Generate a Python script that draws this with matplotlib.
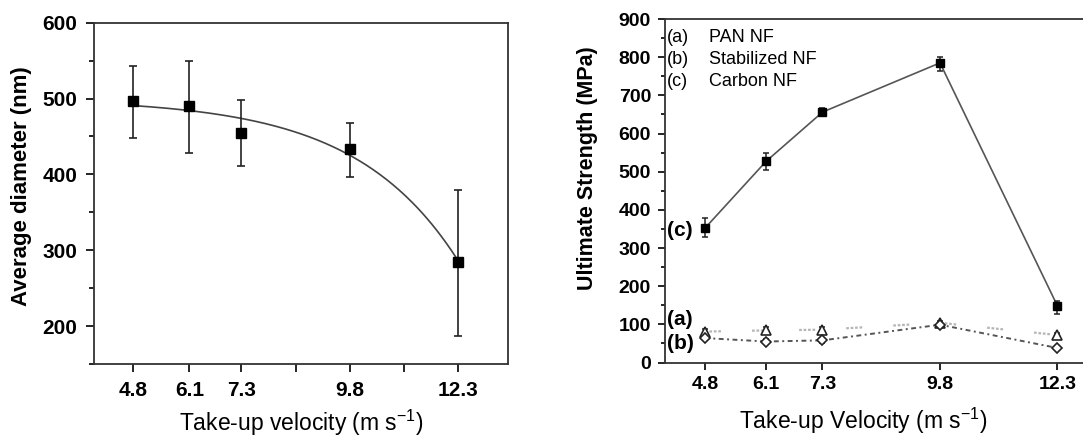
import numpy as np
import matplotlib
matplotlib.use("Agg")
import matplotlib.pyplot as plt
from matplotlib.ticker import FixedLocator, MultipleLocator
import matplotlib.transforms as mtransforms

plt.rcParams['font.family'] = ['Liberation Sans', 'DejaVu Sans']
plt.rcParams['mathtext.default'] = 'regular'

# ---- data: average fibre diameter vs take-up velocity ----
velocity = [4.8, 6.1, 7.3, 9.8, 12.3]
velocity_labels = ['4.8', '6.1', '7.3', '9.8', '12.3']
diameter = [497, 490, 455, 433, 285]
diameter_err_hi = [543, 550, 498, 468, 380]
diameter_err_lo = [448, 428, 411, 396, 187]

# ---- data: ultimate strength of the three fibre types ----
carbon_nf = [352, 527, 656, 785, 148]
carbon_hi = [378, 548, 666, 801, 161]
carbon_lo = [328, 505, 645, 764, 127]
pan_nf = [81, 84, 86, 104, 72]
pan_err = [8, 8, 8, 6, 5]
stab_nf = [64, 55, 58, 99, 38]
stab_err = [6, 6, 6, 6, 4]

W, H = 1083, 437
fig = plt.figure(figsize=(W / 100, H / 100), dpi=100)


def frac_box(left, top, right, bottom):
    return [left / W, 1 - bottom / H, (right - left) / W, (bottom - top) / H]


def saturating_fit(x, y):
    """Least-squares fit of y = a - b*exp(k*x), scanning k."""
    x = np.asarray(x, float)
    y = np.asarray(y, float)
    best = None
    for k in np.linspace(0.05, 1.2, 500):
        A = np.column_stack([np.ones_like(x), -np.exp(k * x)])
        sol, *_ = np.linalg.lstsq(A, y, rcond=None)
        res = np.sum((A @ sol - y) ** 2)
        if best is None or res < best[0]:
            best = (res, sol[0], sol[1], k)
    _, a, b, k = best
    return lambda t: a - b * np.exp(k * np.asarray(t))


# ================= left panel =================
ax1 = fig.add_axes(frac_box(94, 22.7, 508, 364))
yerr1 = [np.subtract(diameter, diameter_err_lo), np.subtract(diameter_err_hi, diameter)]
ax1.errorbar(velocity, diameter, yerr=yerr1, fmt='s', color='black', ms=7,
             ecolor='#222222', elinewidth=1.2, capsize=3, capthick=1.2, zorder=3)

# smooth trend through the measured diameters
trend = saturating_fit(velocity, diameter)
xs = np.linspace(velocity[0], velocity[-1], 200)
ax1.plot(xs, trend(xs), color='#444444', lw=1.2, zorder=2)

ax1.set_xlim(3.9, 13.45)
ax1.set_ylim(150, 600)
ax1.xaxis.set_major_locator(FixedLocator(velocity))
ax1.set_xticklabels(velocity_labels)
ax1.xaxis.set_minor_locator(FixedLocator([8.55, 11.05]))
ax1.yaxis.set_major_locator(MultipleLocator(100))
ax1.yaxis.set_minor_locator(MultipleLocator(50))
ax1.set_yticks([200, 300, 400, 500, 600])
ax1.tick_params(which='major', direction='out', length=6, width=1.2, labelsize=15, pad=6)
ax1.tick_params(which='minor', direction='out', length=3.5, width=1.2)
ax1.tick_params(axis='x', which='minor', length=6)
for lab in ax1.get_xticklabels() + ax1.get_yticklabels():
    lab.set_fontweight('bold')
for sp in ax1.spines.values():
    sp.set_linewidth(1.3)
    sp.set_color('#333333')
ax1.set_ylabel('Average diameter (nm)', fontsize=16, fontweight='bold')
ax1.yaxis.set_label_coords(-0.150, 0.522)
ax1.set_xlabel(r'Take-up velocity (m s$^{\mathregular{-1}}$)', fontsize=16.5, labelpad=6)

# ================= right panel =================
ax2 = fig.add_axes(frac_box(665, 19, 1093, 362.5))
yerr_c = [np.subtract(carbon_nf, carbon_lo), np.subtract(carbon_hi, carbon_nf)]
ax2.plot(velocity, carbon_nf, color='#555555', lw=1.2, zorder=2)
ax2.errorbar(velocity, carbon_nf, yerr=yerr_c, fmt='s', color='black', ms=6,
             ecolor='#222222', elinewidth=1.1, capsize=2.5, capthick=1.1, zorder=3)

ax2.plot(velocity, pan_nf, color='#b5b5b5', lw=1.6, linestyle=(0, (1.2, 0.8, 1.2, 0.8, 1.2, 0.8, 1.2, 14)),
         zorder=1)
ax2.errorbar(velocity, pan_nf, yerr=pan_err, fmt='^', mfc='white', mec='#222222', ms=7,
             mew=1.2, ecolor='#333333', elinewidth=1, capsize=2.5, zorder=3)
ax2.plot(velocity, stab_nf, color='#555555', lw=1.4, linestyle=(0, (2.5, 1.8, 1, 1.8)), zorder=1)
ax2.errorbar(velocity, stab_nf, yerr=stab_err, fmt='D', mfc='white', mec='#222222', ms=5,
             mew=1.2, ecolor='#333333', elinewidth=1, capsize=2.5, zorder=3)

ax2.set_xlim(3.95, 4.8 + (1093 - 705) / 47.0)
ax2.set_ylim(0, 900)
ax2.xaxis.set_major_locator(FixedLocator(velocity))
ax2.set_xticklabels(velocity_labels)
ax2.yaxis.set_major_locator(MultipleLocator(100))
ax2.yaxis.set_minor_locator(MultipleLocator(50))
ax2.tick_params(which='major', direction='out', length=5, width=1.2, labelsize=14, pad=5)
ax2.tick_params(which='minor', direction='out', length=3, width=1.2)
for lab in ax2.get_xticklabels() + ax2.get_yticklabels():
    lab.set_fontweight('bold')
for sp in ax2.spines.values():
    sp.set_linewidth(1.3)
    sp.set_color('#333333')
ax2.spines['right'].set_visible(False)
ax2.set_ylabel('Ultimate Strength (MPa)', fontsize=15.5, fontweight='bold')
ax2.yaxis.set_label_coords(-0.157, 0.565)
ax2.set_xlabel(r'Take-up Velocity (m s$^{\mathregular{-1}}$)', fontsize=16.5, labelpad=8)
ax2.xaxis.set_label_coords(0.463, -0.125)
ax2.xaxis.label.set_va('top')

# key to the three fibre types
key = [('(a)', 'PAN NF'), ('(b)', 'Stabilized NF'), ('(c)', 'Carbon NF')]
for i, (tag, name) in enumerate(key):
    y = 0.945 - i * 0.063
    ax2.text(0.005, y, tag, transform=ax2.transAxes, fontsize=13, va='center', ha='left')
    ax2.text(0.103, y, name, transform=ax2.transAxes, fontsize=13, va='center', ha='left')

# curve tags next to the first point of each series
blend = mtransforms.blended_transform_factory(ax2.transAxes, ax2.transData)
ax2.text(0.005, carbon_nf[0] - 5, '(c)', transform=blend, fontsize=15, fontweight='bold',
         va='center', ha='left')
ax2.text(0.005, 113, '(a)', transform=blend, fontsize=15, fontweight='bold', va='center', ha='left')
ax2.text(0.005, 50, '(b)', transform=blend, fontsize=15, fontweight='bold', va='center', ha='left')

fig.savefig('out.png', dpi=100)
